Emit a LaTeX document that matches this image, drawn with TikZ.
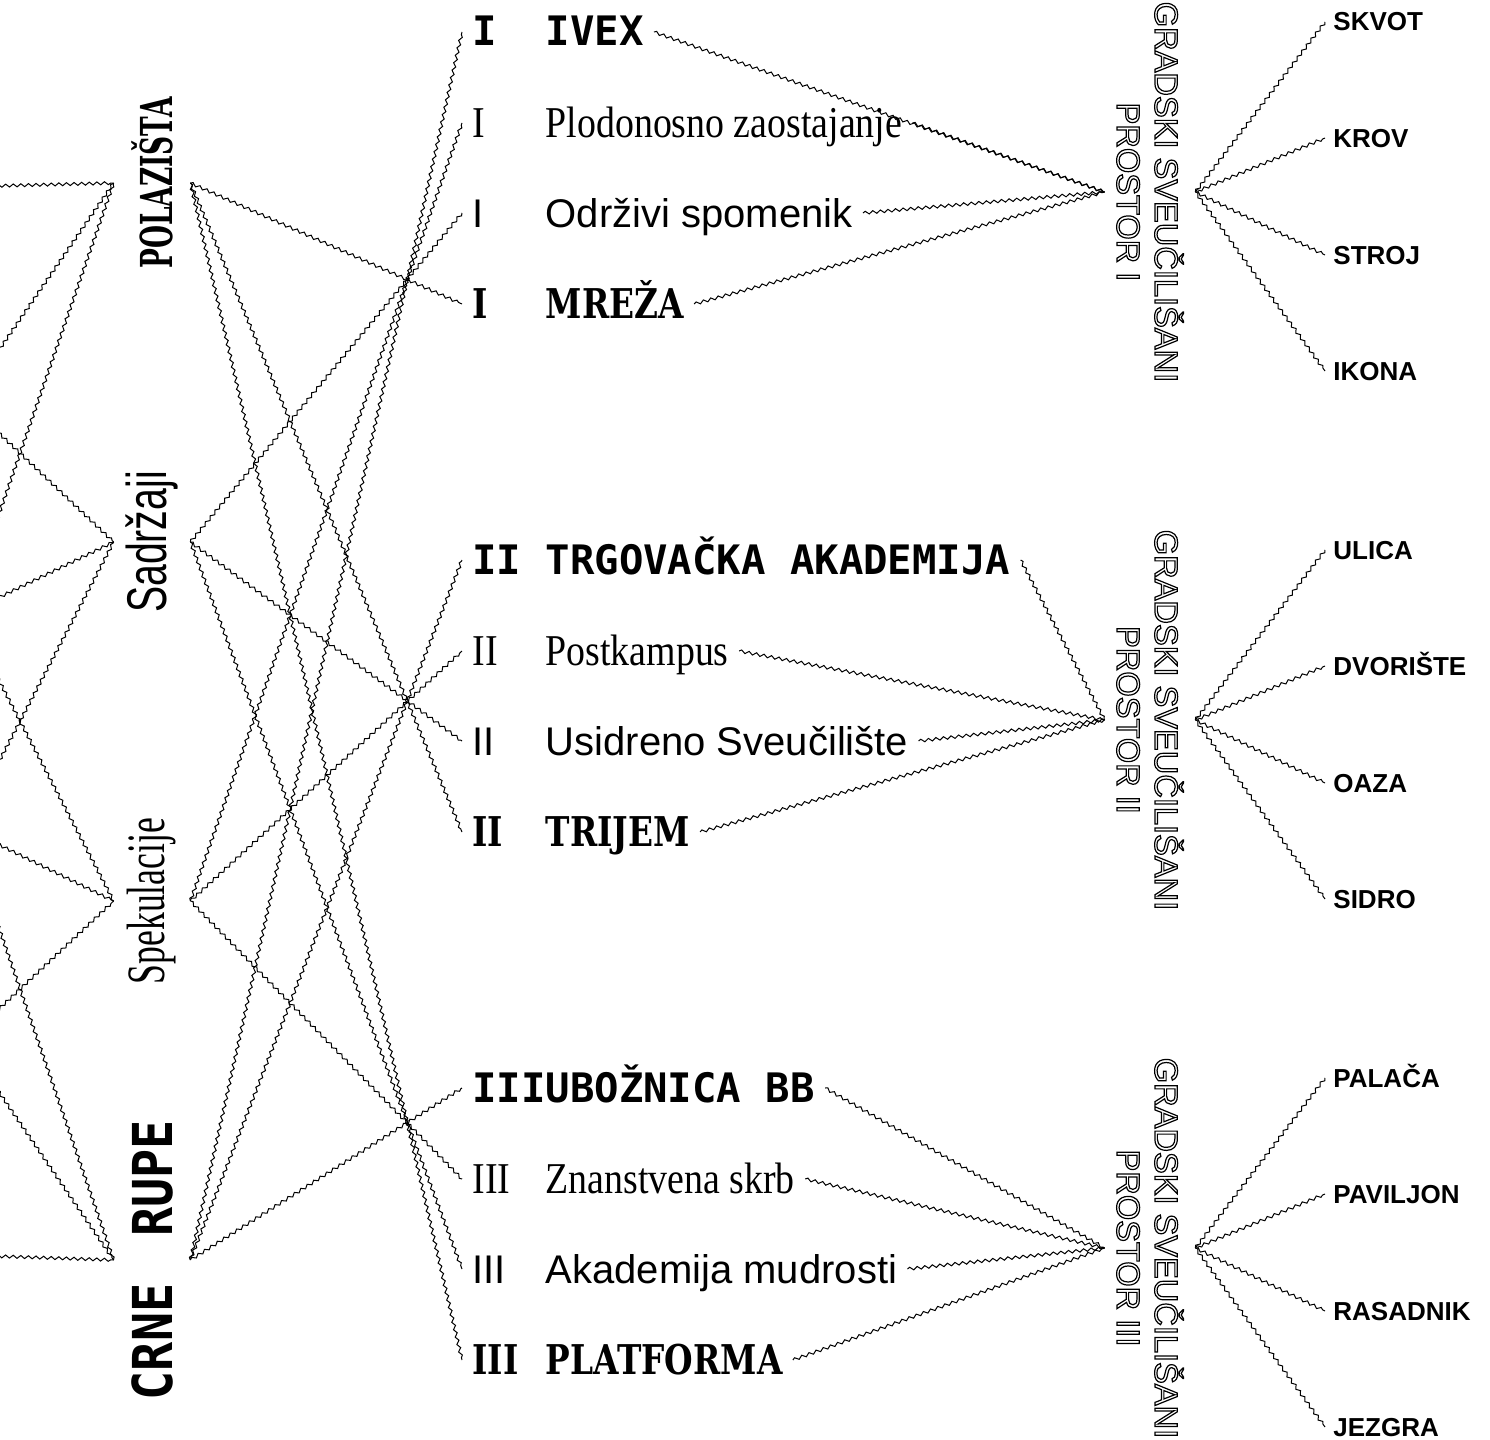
\documentclass[tikz,border=0pt]{standalone}
\usepackage{fontspec}
\setmainfont{Liberation Sans}
\newfontfamily\helv{Liberation Sans}
\newfontfamily\helvuski{Liberation Sans}[FakeStretch=0.7]
\newfontfamily\mono{DejaVu Sans Mono}
\newfontfamily\monouski{DejaVu Sans Mono}[FakeStretch=0.88]
\newfontfamily\tajms{Liberation Serif}[FakeStretch=0.86]
\newfontfamily\tajmsuski{Liberation Serif}[FakeStretch=0.66]
\newfontfamily\ukras{DejaVu Serif}[FakeStretch=0.8]
\newfontfamily\ukrasuski{DejaVu Serif}[FakeStretch=0.6]
\usetikzlibrary{decorations.pathmorphing}
\newcommand{\stv}[2]{\makebox[36.7pt][l]{#1}#2}
\newcommand{\obrub}[1]{\special{pdf:literal direct 1 Tr 0.6 w}#1\special{pdf:literal direct 0 Tr}}
\tikzset{
  val/.style={
    decorate,
    decoration={snake, amplitude=0.75pt, segment length=3.8pt},
    line width=0.5pt
  },
  kategorija/.style={
    rotate=90,
    minimum height=38pt,
    inner sep=0pt
  },
  stavka/.style={
    anchor=west,
    inner xsep=5pt,
    inner ysep=0pt,
    text height=14pt,
    text depth=0pt
  },
  tipmono/.style={font=\mono\bfseries\fontsize{20.3pt}{24pt}\selectfont},
  tipserif/.style={font=\tajms\fontsize{22pt}{24pt}\selectfont},
  tipsans/.style={font=\helv\fontsize{20pt}{24pt}\selectfont},
  tipukras/.style={font=\ukras\bfseries\fontsize{20.5pt}{24pt}\selectfont},
  cvor/.style={
    rotate=-90,
    minimum height=45pt,
    inner sep=0pt,
    align=center,
    font=\helv\fontsize{16.3pt}{19pt}\selectfont
  },
  oznaka/.style={
    anchor=west,
    inner xsep=4pt,
    inner ysep=0pt,
    text height=9pt,
    text depth=0pt,
    font=\helv\bfseries\fontsize{13pt}{15pt}\selectfont
  }
}
\begin{document}
\begin{tikzpicture}[x=0.5pt, y=-0.5pt]
  \useasboundingbox (0,0) rectangle (1490,1440);
  \clip (0,0) rectangle (1490,1440);
  \coordinate (izvor1) at (-255,192);
  \coordinate (izvor2) at (-255,720);
  \coordinate (izvor3) at (-255,1248);

  \node[kategorija, font=\ukrasuski\bfseries\fontsize{22pt}{24pt}\selectfont] (pol) at (152,183) {POLAZIŠTA};
  \node[kategorija, font=\helvuski\fontsize{28pt}{30pt}\selectfont] (sad) at (152,542) {Sadržaji};
  \node[kategorija, font=\tajmsuski\fontsize{27pt}{30pt}\selectfont] (spe) at (152,901) {Spekulacije};
  \node[kategorija, font=\monouski\bfseries\fontsize{27.5pt}{30pt}\selectfont] (crn) at (152,1260) {CRNE\hspace{9pt} RUPE};

  \node[stavka, tipmono] (ivex) at (462,32) {\stv{I}{IVEX}};
  \node[stavka, tipserif] (plod) at (462,123) {\stv{I}{Plodonosno zaostajanje}};
  \node[stavka, tipsans] (odrz) at (462,213) {\stv{I}{Održivi spomenik}};
  \node[stavka, tipukras] (mreza) at (462,304) {\stv{I}{MREŽA}};

  \node[stavka, tipmono] (trgov) at (462,560) {\stv{II}{TRGOVAČKA AKADEMIJA}};
  \node[stavka, tipserif] (postk) at (462,651) {\stv{II}{Postkampus}};
  \node[stavka, tipsans] (usid) at (462,741) {\stv{II}{Usidreno Sveučilište}};
  \node[stavka, tipukras] (trijem) at (462,832) {\stv{II}{TRIJEM}};

  \node[stavka, tipmono] (ubo) at (462,1088) {\stv{III}{UBOŽNICA BB}};
  \node[stavka, tipserif] (znan) at (462,1179) {\stv{III}{Znanstvena skrb}};
  \node[stavka, tipsans] (akad) at (462,1269) {\stv{III}{Akademija mudrosti}};
  \node[stavka, tipukras] (platf) at (462,1360) {\stv{III}{PLATFORMA}};

  \node[cvor] (gsp1) at (1150,192) {\obrub{GRADSKI SVEUČILIŠANI}\\\obrub{PROSTOR I}};
  \node[cvor] (gsp2) at (1150,720) {\obrub{GRADSKI SVEUČILIŠANI}\\\obrub{PROSTOR II}};
  \node[cvor] (gsp3) at (1150,1248) {\obrub{GRADSKI SVEUČILIŠANI}\\\obrub{PROSTOR III}};

  \node[oznaka] (skvot) at (1325,22) {SKVOT};
  \node[oznaka] (krov) at (1325,138) {KROV};
  \node[oznaka] (stroj) at (1325,255) {STROJ};
  \node[oznaka] (ikona) at (1325,371) {IKONA};
  \node[oznaka] (ulica) at (1325,550) {ULICA};
  \node[oznaka] (dvor) at (1325,666) {DVORIŠTE};
  \node[oznaka] (oaza) at (1325,783) {OAZA};
  \node[oznaka] (sidro) at (1325,899) {SIDRO};
  \node[oznaka] (palaca) at (1325,1078) {PALAČA};
  \node[oznaka] (pav) at (1325,1194) {PAVILJON};
  \node[oznaka] (ras) at (1325,1311) {RASADNIK};
  \node[oznaka] (jezgra) at (1325,1427) {JEZGRA};

  \draw[val] (izvor1) -- (pol.north);
  \draw[val] (izvor1) -- (sad.north);
  \draw[val] (izvor1) -- (spe.north);
  \draw[val] (izvor1) -- (crn.north);
  \draw[val] (izvor2) -- (pol.north);
  \draw[val] (izvor2) -- (sad.north);
  \draw[val] (izvor2) -- (spe.north);
  \draw[val] (izvor2) -- (crn.north);
  \draw[val] (izvor3) -- (pol.north);
  \draw[val] (izvor3) -- (sad.north);
  \draw[val] (izvor3) -- (spe.north);
  \draw[val] (izvor3) -- (crn.north);

  \draw[val] (pol.south) -- (mreza.west);
  \draw[val] (pol.south) -- (trijem.west);
  \draw[val] (pol.south) -- (platf.west);
  \draw[val] (sad.south) -- (odrz.west);
  \draw[val] (sad.south) -- (usid.west);
  \draw[val] (sad.south) -- (akad.west);
  \draw[val] (spe.south) -- (plod.west);
  \draw[val] (spe.south) -- (postk.west);
  \draw[val] (spe.south) -- (znan.west);
  \draw[val] (crn.south) -- (ivex.west);
  \draw[val] (crn.south) -- (trgov.west);
  \draw[val] (crn.south) -- (ubo.west);

  \draw[val] (ivex.east) -- (gsp1.south);
  \draw[val] (plod.east) -- (gsp1.south);
  \draw[val] (odrz.east) -- (gsp1.south);
  \draw[val] (mreza.east) -- (gsp1.south);
  \draw[val] (trgov.east) -- (gsp2.south);
  \draw[val] (postk.east) -- (gsp2.south);
  \draw[val] (usid.east) -- (gsp2.south);
  \draw[val] (trijem.east) -- (gsp2.south);
  \draw[val] (ubo.east) -- (gsp3.south);
  \draw[val] (znan.east) -- (gsp3.south);
  \draw[val] (akad.east) -- (gsp3.south);
  \draw[val] (platf.east) -- (gsp3.south);

  \draw[val] (gsp1.north) -- (skvot.west);
  \draw[val] (gsp1.north) -- (krov.west);
  \draw[val] (gsp1.north) -- (stroj.west);
  \draw[val] (gsp1.north) -- (ikona.west);
  \draw[val] (gsp2.north) -- (ulica.west);
  \draw[val] (gsp2.north) -- (dvor.west);
  \draw[val] (gsp2.north) -- (oaza.west);
  \draw[val] (gsp2.north) -- (sidro.west);
  \draw[val] (gsp3.north) -- (palaca.west);
  \draw[val] (gsp3.north) -- (pav.west);
  \draw[val] (gsp3.north) -- (ras.west);
  \draw[val] (gsp3.north) -- (jezgra.west);
\end{tikzpicture}
\end{document}
